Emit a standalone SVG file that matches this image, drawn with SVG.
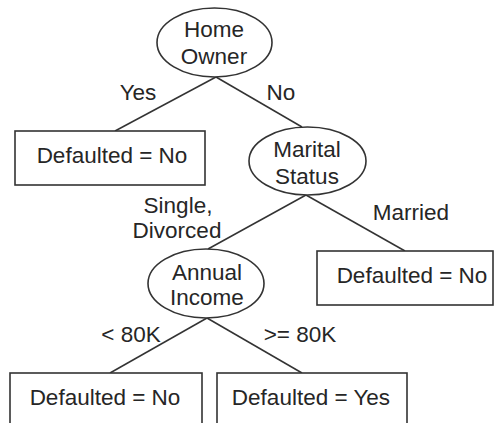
<svg xmlns="http://www.w3.org/2000/svg" width="494" height="423" viewBox="0 0 494 423">
  <style>
    .shape { fill: #ffffff; stroke: #333333; stroke-width: 1.6; }
    .edge { fill: none; stroke: #333333; stroke-width: 1.5; }
    text { font-family: "Liberation Sans", Arial, sans-serif; font-size: 22.5px; fill: #262626; text-anchor: middle; }
  </style>
  <rect width="494" height="423" fill="#ffffff"/>

  <!-- connectors -->
  <g id="connectors">
    <line class="edge" x1="216" y1="77" x2="115" y2="131"/>
    <line class="edge" x1="216" y1="77" x2="302" y2="127"/>
    <line class="edge" x1="306" y1="195" x2="208" y2="249"/>
    <line class="edge" x1="306" y1="195" x2="405" y2="251"/>
    <line class="edge" x1="207" y1="318" x2="110" y2="373"/>
    <line class="edge" x1="207" y1="318" x2="302" y2="373"/>
    <!-- branch labels -->
    <text x="138" y="100">Yes</text>
    <text x="281" y="100">No</text>
    <text x="178" y="213">Single,</text>
    <text x="177" y="238">Divorced</text>
    <text x="411" y="220">Married</text>
    <text x="131" y="342">&lt; 80K</text>
    <text x="300" y="342">&gt;= 80K</text>
  </g>

  <g id="home-owner">
    <ellipse class="shape" cx="214.5" cy="42.5" rx="57.5" ry="34.5"/>
    <text x="214" y="37">Home</text>
    <text x="214" y="64">Owner</text>
  </g>

  <g id="leaf-home-yes">
    <rect class="shape" x="15" y="131" width="190" height="54"/>
    <text x="112" y="163">Defaulted = No</text>
  </g>

  <g id="marital-status">
    <ellipse class="shape" cx="307.5" cy="161" rx="58.5" ry="34"/>
    <text x="307" y="157">Marital</text>
    <text x="307" y="184">Status</text>
  </g>

  <g id="leaf-married">
    <rect class="shape" x="317" y="251" width="176" height="54"/>
    <text x="412" y="283">Defaulted = No</text>
  </g>

  <g id="annual-income">
    <ellipse class="shape" cx="206" cy="283.5" rx="58" ry="34.5"/>
    <text x="207" y="280">Annual</text>
    <text x="207" y="305">Income</text>
  </g>

  <g id="leaf-low-income">
    <rect class="shape" x="10" y="373" width="192" height="60"/>
    <text x="105" y="405">Defaulted = No</text>
  </g>

  <g id="leaf-high-income">
    <rect class="shape" x="217" y="373" width="190" height="60"/>
    <text x="311" y="405">Defaulted = Yes</text>
  </g>
</svg>
